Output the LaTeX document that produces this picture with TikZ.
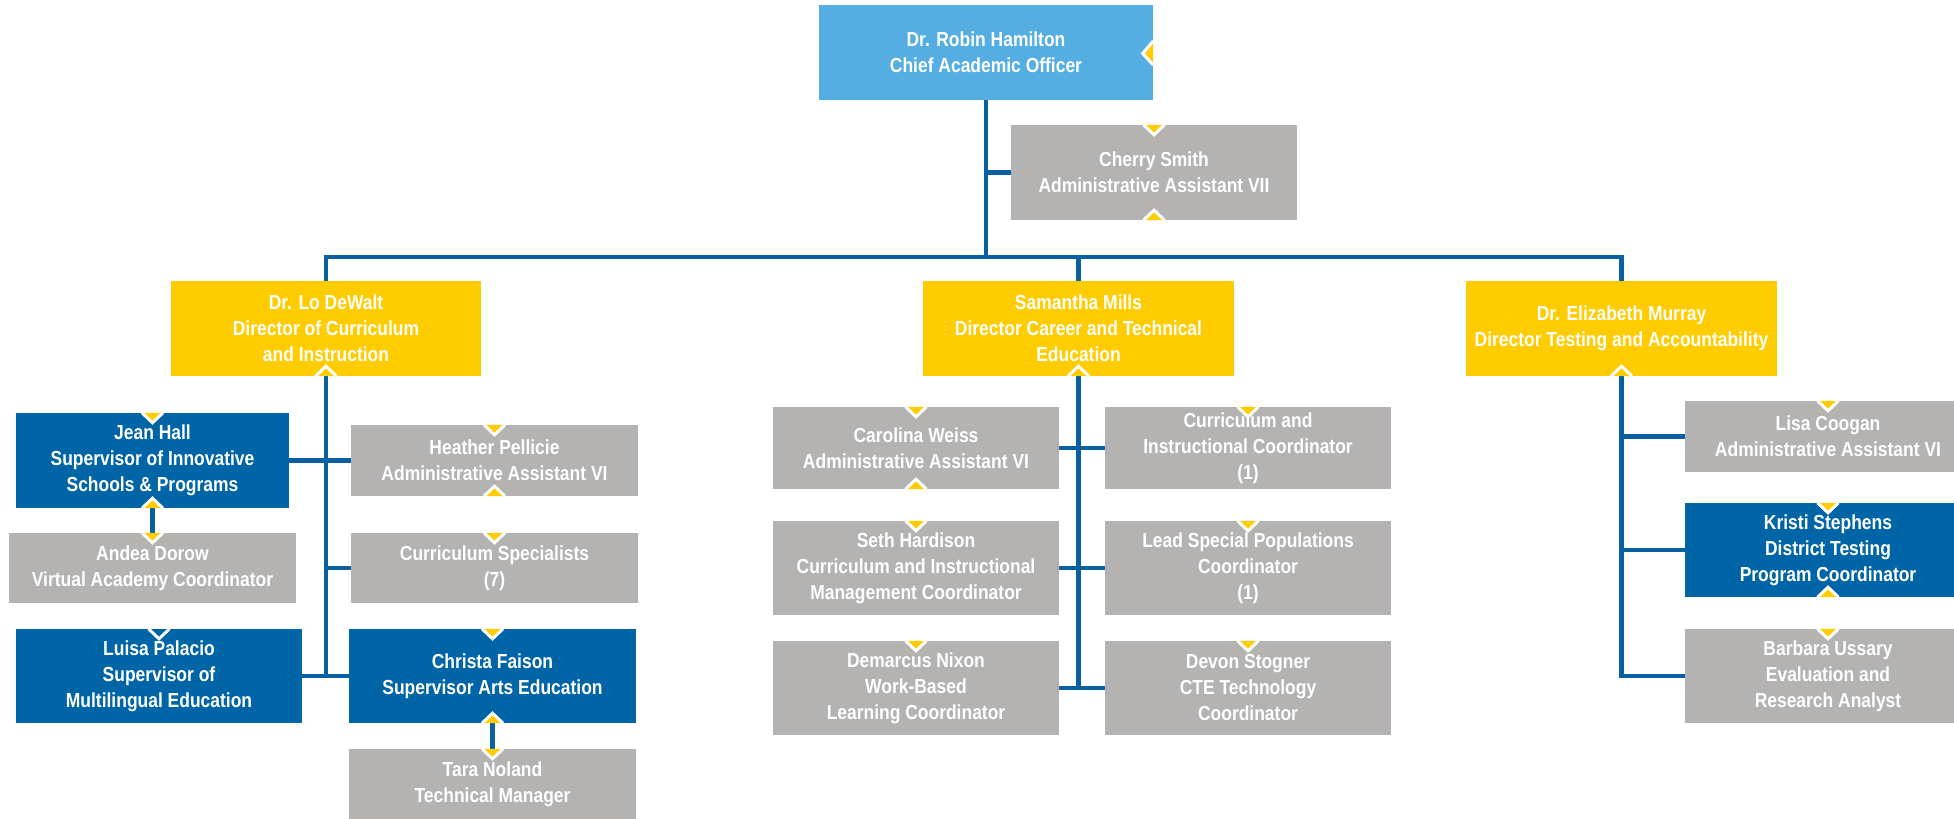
\documentclass[tikz,border=0pt]{standalone}
\usepackage{fontspec}
\setmainfont{Liberation Sans}[FakeStretch=0.86]
\definecolor{cLight}{RGB}{84,174,225}
\definecolor{cYellow}{RGB}{255,204,0}
\definecolor{cGray}{RGB}{180,179,177}
\definecolor{cDark}{RGB}{0,101,166}
\definecolor{cLine}{RGB}{8,96,160}
\tikzset{
  box/.style={rectangle, inner sep=0pt, align=center, text=white,
    font=\fontsize{20.3}{26}\selectfont\bfseries},
  lightbox/.style={box, fill=cLight},
  yelbox/.style={box, fill=cYellow},
  graybox/.style={box, fill=cGray},
  darkbox/.style={box, fill=cDark},
  link/.style={draw=cLine, line width=4.5pt},
  marker/.style={fill=cYellow, draw=white, line width=3pt},
  hollowmarker/.style={draw=white, line width=3pt},
}
\newcommand{\tridown}[1]{\filldraw[marker, shift={(#1)}] (-10.5,0) -- (0,10) -- (10.5,0);}
\newcommand{\triup}[1]{\filldraw[marker, shift={(#1)}] (-10.5,0) -- (0,-10) -- (10.5,0);}
\begin{document}
\begin{tikzpicture}[x=1pt,y=-1pt]
\useasboundingbox (0,0) rectangle (1954,819);
\clip (0,0) rectangle (1954,819);
% nodes
\node[lightbox, minimum width=334pt, minimum height=95pt] (cao) at (986,52.5) {Dr. Robin Hamilton\\Chief Academic Officer};
\node[graybox, minimum width=286pt, minimum height=95pt] (cherry) at (1154,172.5) {Cherry Smith\\Administrative Assistant VII};
\node[yelbox, minimum width=310pt, minimum height=95pt] (lo) at (326,328.5) {Dr. Lo DeWalt\\Director of Curriculum\\and Instruction};
\node[yelbox, minimum width=311pt, minimum height=95pt] (sam) at (1078.5,328.5) {Samantha Mills\\Director Career and Technical\\Education};
\node[yelbox, minimum width=311pt, minimum height=95pt] (eliz) at (1621.5,328.5) {Dr. Elizabeth Murray\\Director Testing and Accountability};
% left column
\node[darkbox, minimum width=273pt, minimum height=95pt] (jean) at (152.5,460.5) {Jean Hall\\Supervisor of Innovative\\Schools \& Programs};
\node[graybox, minimum width=287pt, minimum height=71pt] (heather) at (494.5,460.5) {Heather Pellicie\\Administrative Assistant VI};
\node[graybox, minimum width=287pt, minimum height=70pt] (andea) at (152.5,568) {Andea Dorow\\Virtual Academy Coordinator};
\node[graybox, minimum width=287pt, minimum height=70pt] (cs) at (494.5,568) {Curriculum Specialists\\(7)};
\node[darkbox, minimum width=286pt, minimum height=94pt] (luisa) at (159,676) {Luisa Palacio\\Supervisor of\\Multilingual Education};
\node[darkbox, minimum width=287pt, minimum height=94pt] (christa) at (492.5,676) {Christa Faison\\Supervisor Arts Education};
\node[graybox, minimum width=287pt, minimum height=70pt] (tara) at (492.5,784) {Tara Noland\\Technical Manager};
% middle column
\node[graybox, minimum width=286pt, minimum height=82pt] (carolina) at (916,448) {Carolina Weiss\\Administrative Assistant VI};
\node[graybox, minimum width=286pt, minimum height=82pt] (cic) at (1248,448) {Curriculum and\\Instructional Coordinator\\(1)};
\node[graybox, minimum width=286pt, minimum height=94pt] (seth) at (916,568) {Seth Hardison\\Curriculum and Instructional\\Management Coordinator};
\node[graybox, minimum width=286pt, minimum height=94pt] (lead) at (1248,568) {Lead Special Populations\\Coordinator\\(1)};
\node[graybox, minimum width=286pt, minimum height=94pt] (demarcus) at (916,688) {Demarcus Nixon\\Work-Based\\Learning Coordinator};
\node[graybox, minimum width=286pt, minimum height=94pt] (devon) at (1248,688) {Devon Stogner\\CTE Technology\\Coordinator};
% right column
\node[graybox, minimum width=286pt, minimum height=71pt] (lisa) at (1828,436.5) {Lisa Coogan\\Administrative Assistant VI};
\node[darkbox, minimum width=286pt, minimum height=94pt] (kristi) at (1828,550) {Kristi Stephens\\District Testing\\Program Coordinator};
\node[graybox, minimum width=286pt, minimum height=94pt] (barbara) at (1828,676) {Barbara Ussary\\Evaluation and\\Research Analyst};
% connectors
\coordinate (bus) at (0,257);
\begin{scope}[on background layer/.style={}]
\draw[link] (cao.south) -- (cao.south |- bus);
\draw[link] (cao.south |- cherry.west) -- (cherry.west);
\draw[link] (lo.north) -- (lo.north |- bus) -- (eliz.north |- bus) -- (eliz.north);
\draw[link] (sam.north) -- (sam.north |- bus);
\draw[link] (lo.south) -- (lo.south |- luisa.east);
\draw[link] (jean.east) -- (heather.west);
\draw[link] (lo.south |- cs.west) -- (cs.west);
\draw[link] (luisa.east) -- (christa.west);
\draw[link] (jean.south) -- (andea.north);
\draw[link] (christa.south) -- (tara.north);
\draw[link] (sam.south) -- (sam.south |- demarcus.east);
\draw[link] (carolina.east) -- (cic.west);
\draw[link] (seth.east) -- (lead.west);
\draw[link] (demarcus.east) -- (devon.west);
\draw[link] (eliz.south) |- (barbara.west);
\draw[link] (eliz.south |- lisa.west) -- (lisa.west);
\draw[link] (eliz.south |- kristi.west) -- (kristi.west);
\end{scope}
% markers
\filldraw[marker, shift={(cao.east)}] (0,-11.5) -- (-10.5,1) -- (0,12.5);
\tridown{cherry.north} \triup{cherry.south}
\triup{lo.south} \triup{sam.south} \triup{eliz.south}
\tridown{jean.north} \triup{jean.south}
\tridown{heather.north} \triup{heather.south}
\tridown{andea.north} \tridown{cs.north}
\draw[hollowmarker, shift={(luisa.north)}] (-10.5,0) -- (0,10) -- (10.5,0);
\tridown{christa.north} \triup{christa.south}
\tridown{tara.north}
\tridown{carolina.north} \triup{carolina.south}
\tridown{cic.north} \tridown{seth.north} \tridown{lead.north}
\tridown{demarcus.north} \tridown{devon.north}
\tridown{lisa.north} \tridown{kristi.north} \triup{kristi.south}
\tridown{barbara.north}
\end{tikzpicture}
\end{document}
